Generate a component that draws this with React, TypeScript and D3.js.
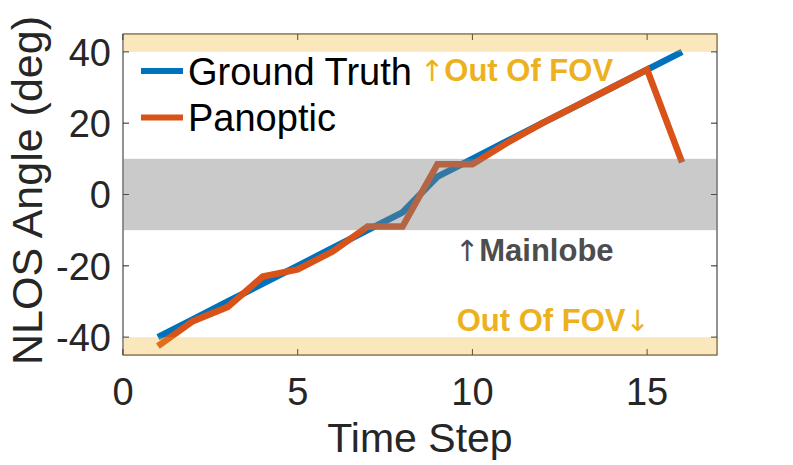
import * as d3 from "d3";
import React from "react";

// values
const timeSteps = [1, 2, 3, 4, 5, 6, 7, 8, 9, 10, 11, 12, 13, 14, 15, 16];
const groundTruth = [-40, -35, -30, -25, -20, -15, -10, -5, 5, 10, 15, 20, 25, 30, 35, 40];
const panoptic = [-42.5, -35.5, -31.5, -23, -21, -16, -9, -9, 8.5, 8.5, 14.5, 20, 25, 30, 35, 9];

const xTicks = [0, 5, 10, 15];
const yTicks = [-40, -20, 0, 20, 40];

// shaded regions: [low, high] in degrees
const fovBands = [[40, 45], [-45, -40]];
const mainlobeBand = [-10, 10];

const annotations = [
  { pre: "\u2191", text: "Out Of FOV", post: "", t: 8.5, v: 31.7, color: "#EDB120" },
  { pre: "\u2191", text: "Mainlobe", post: "", t: 9.5, v: -18.6, color: "#4D4D4D" },
  { pre: "", text: "Out Of FOV", post: "\u2193", t: 9.55, v: -38.2, color: "#EDB120" },
];

const series = [
  { name: "Ground Truth", values: groundTruth, color: "#0072BD" },
  { name: "Panoptic", values: panoptic, color: "#D95319" },
];

const W = 793;
const H = 465;
const margin = { top: 34, right: 76, bottom: 110, left: 123 };
const FONT = "'Liberation Sans', Arial, Helvetica, sans-serif";
const AXIS = "#262626";

export default function App() {
  const innerW = W - margin.left - margin.right;
  const innerH = H - margin.top - margin.bottom;

  const x = d3.scaleLinear().domain([0, 17]).range([0, innerW]);
  const y = d3.scaleLinear().domain([-45, 45]).range([innerH, 0]);

  const line = d3
    .line<number>()
    .x((_, i) => x(timeSteps[i]))
    .y((d) => y(d));

  const tickLen = 6;

  return (
    <svg
      width={W}
      height={H}
      style={{ position: "absolute", left: 0, top: 0, background: "#fff" }}
      fontFamily={FONT}
    >
      <g transform={`translate(${margin.left},${margin.top})`}>
        {/* axes box */}
        <rect x={0} y={0} width={innerW} height={innerH} fill="none" stroke={AXIS} strokeWidth={1} />
        {xTicks.map((t) => (
          <g key={"x" + t}>
            <line x1={x(t)} x2={x(t)} y1={innerH} y2={innerH - tickLen} stroke={AXIS} />
            <line x1={x(t)} x2={x(t)} y1={0} y2={tickLen} stroke={AXIS} />
            <text x={x(t)} y={innerH + 50} textAnchor="middle" fontSize={38} fill={AXIS}>
              {t}
            </text>
          </g>
        ))}
        {yTicks.map((t) => (
          <g key={"y" + t}>
            <line x1={0} x2={tickLen} y1={y(t)} y2={y(t)} stroke={AXIS} />
            <line x1={innerW} x2={innerW - tickLen} y1={y(t)} y2={y(t)} stroke={AXIS} />
            <text x={-12} y={y(t)} dy="0.36em" textAnchor="end" fontSize={38} fill={AXIS}>
              {t}
            </text>
          </g>
        ))}

        {/* data lines */}
        {series.map((s) => (
          <path
            key={s.name}
            d={line(s.values) || ""}
            fill="none"
            stroke={s.color}
            strokeWidth={6.5}
          />
        ))}

        {/* translucent bands drawn over the data */}
        {fovBands.map(([lo, hi], i) => (
          <rect
            key={"fov" + i}
            x={0}
            y={y(hi)}
            width={innerW}
            height={y(lo) - y(hi)}
            fill="#EDB120"
            fillOpacity={0.3}
          />
        ))}
        <rect
          x={0}
          y={y(mainlobeBand[1])}
          width={innerW}
          height={y(mainlobeBand[0]) - y(mainlobeBand[1])}
          fill="#808080"
          fillOpacity={0.42}
        />

        {/* annotations */}
        {annotations.map((a, i) => (
          <text key={"ann" + i} x={x(a.t)} y={y(a.v)} fontSize={31} fontWeight="bold" fill={a.color}>
            {a.pre && (
              <tspan fontFamily="'DejaVu Sans', sans-serif" fontWeight="normal" fontSize={29}>
                {a.pre}
              </tspan>
            )}
            <tspan>{a.text}</tspan>
            {a.post && (
              <tspan fontFamily="'DejaVu Sans', sans-serif" fontWeight="normal" fontSize={29}>
                {a.post}
              </tspan>
            )}
          </text>
        ))}

        {/* legend */}
        {series.map((s, i) => (
          <g key={"leg" + s.name} transform={`translate(18,${37 + i * 46.5})`}>
            <line x1={0} x2={42} y1={0} y2={0} stroke={s.color} strokeWidth={6} />
            <text x={47} y={0} dy="0.36em" fontSize={38} fill="#000">
              {s.name}
            </text>
          </g>
        ))}

        {/* axis labels */}
        <text x={innerW / 2} y={innerH + 97} textAnchor="middle" fontSize={41} fill={AXIS}>
          Time Step
        </text>
        <text
          transform={`translate(${-81},${innerH / 2 - 4}) rotate(-90)`}
          textAnchor="middle"
          fontSize={43}
          fill={AXIS}
        >
          NLOS Angle (deg)
        </text>
      </g>
    </svg>
  );
}
